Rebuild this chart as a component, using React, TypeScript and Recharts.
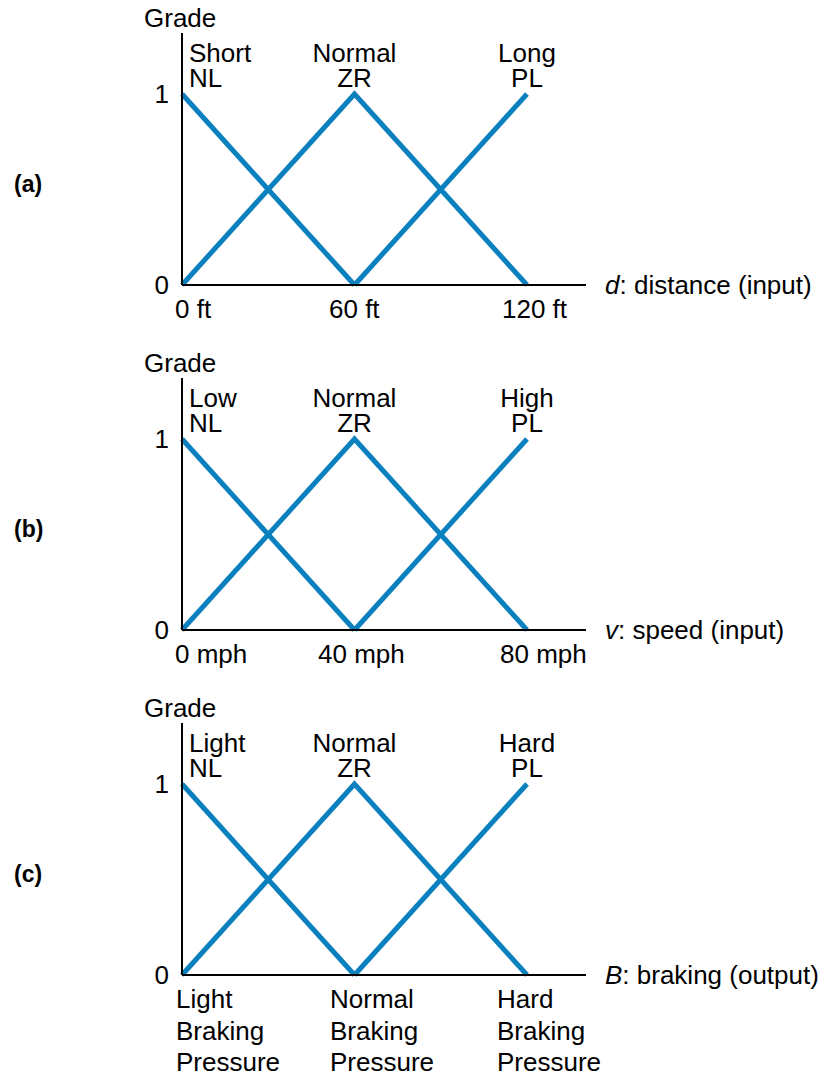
import { Label, Line, LineChart, XAxis, YAxis } from 'recharts'

const FONT = "Arial, 'Liberation Sans', Helvetica, sans-serif"
const CURVE = '#0a80bf'

// membership grades at the three set centres (null = set not defined there)
const NL_GRADE = [1, 0, null]
const ZR_GRADE = [0, 1, 0]
const PL_GRADE = [null, 0, 1]
const GRADE_TICKS = [0, 1]
const SET_CODES = ['NL', 'ZR', 'PL']

const DISTANCE_X = [0, 60, 120]
const DISTANCE_SETS = ['Short', 'Normal', 'Long']
const DISTANCE_TICKS = [['0 ft'], ['60 ft'], ['120 ft']]

const SPEED_X = [0, 40, 80]
const SPEED_SETS = ['Low', 'Normal', 'High']
const SPEED_TICKS = [['0 mph'], ['40 mph'], ['80 mph']]

const BRAKING_X = [0, 1, 2]
const BRAKING_SETS = ['Light', 'Normal', 'Hard']
const BRAKING_TICKS = [
  ['Light', 'Braking', 'Pressure'],
  ['Normal', 'Braking', 'Pressure'],
  ['Hard', 'Braking', 'Pressure'],
]

type PanelProps = {
  tag: string
  xs: number[]
  sets: string[]
  ticks: string[][]
  variable: string
  caption: string
  height: number
  tickDx: number[]
}

function Panel({ tag, xs, sets, ticks, variable, caption, height, tickDx }: PanelProps) {
  const data = xs.map((x, i) => ({ x, nl: NL_GRADE[i], zr: ZR_GRADE[i], pl: PL_GRADE[i] }))
  const xMax = xs[xs.length - 1] * (404 / 345)
  const yMax = 252 / 191

  const bottomTick = (props: any) => {
    const { x, y, payload } = props
    const i = xs.indexOf(payload.value)
    const tx = x + tickDx[i]
    return (
      <text x={tx} y={y} fontSize={26} fontFamily={FONT} fill="#000" textAnchor="start">
        {ticks[i].map((line, k) => (
          <tspan key={k} x={tx} dy={k === 0 ? 33 : 31.5}>{line}</tspan>
        ))}
      </text>
    )
  }

  const topTick = (props: any) => {
    const { x, y, payload } = props
    const i = xs.indexOf(payload.value)
    const first = i === 0
    const tx = first ? x + 7 : x
    return (
      <text x={tx} y={y} fontSize={26} fontFamily={FONT} fill="#000" textAnchor={first ? 'start' : 'middle'}>
        <tspan x={tx} dy={29}>{sets[i]}</tspan>
        <tspan x={tx} dy={25}>{SET_CODES[i]}</tspan>
      </text>
    )
  }

  return (
    <LineChart width={830} height={height} data={data} margin={{ top: 32, right: 244, left: 0, bottom: 0 }}>
      <XAxis
        xAxisId="main"
        dataKey="x"
        type="number"
        domain={[0, xMax]}
        ticks={xs}
        interval={0}
        height={height - 285}
        tickSize={0}
        tickMargin={0}
        tickLine={false}
        axisLine={{ stroke: '#000', strokeWidth: 2 }}
        tick={bottomTick}
      >
        <Label
          content={(p: any) => {
            const vb = p.viewBox
            return (
              <text x={vb.x + vb.width + 19} y={vb.y + 9} fontSize={26} fontFamily={FONT} fill="#000">
                <tspan fontStyle="italic">{variable}</tspan>
                {caption}
              </text>
            )
          }}
        />
      </XAxis>
      <XAxis
        xAxisId="sets"
        orientation="top"
        dataKey="x"
        type="number"
        domain={[0, xMax]}
        ticks={xs}
        interval={0}
        height={1}
        tickSize={0}
        tickMargin={0}
        tickLine={false}
        axisLine={false}
        tick={topTick}
      />
      <YAxis
        type="number"
        domain={[0, yMax]}
        ticks={GRADE_TICKS}
        width={182}
        tickSize={0}
        tickMargin={13}
        tickLine={false}
        axisLine={{ stroke: '#000', strokeWidth: 2 }}
        tick={{ fontSize: 26, fontFamily: FONT, fill: '#000' }}
      >
        <Label
          content={(p: any) => {
            const vb = p.viewBox
            return (
              <g>
                <text x={vb.x + 144} y={vb.y - 6} fontSize={26} fontFamily={FONT} fill="#000">Grade</text>
                <text x={vb.x + 14} y={vb.y + vb.height - 93} fontSize={23} fontWeight="bold" fontFamily={FONT} fill="#000">{tag}</text>
              </g>
            )
          }}
        />
      </YAxis>
      <Line xAxisId="main" dataKey="nl" type="linear" stroke={CURVE} strokeWidth={5} dot={false} activeDot={false} isAnimationActive={false} />
      <Line xAxisId="main" dataKey="zr" type="linear" stroke={CURVE} strokeWidth={5} dot={false} activeDot={false} isAnimationActive={false} />
      <Line xAxisId="main" dataKey="pl" type="linear" stroke={CURVE} strokeWidth={5} dot={false} activeDot={false} isAnimationActive={false} />
    </LineChart>
  )
}

export default function App() {
  return (
    <div style={{ position: 'absolute', left: 0, top: 0, width: 830, height: 1078, background: '#fff' }}>
      <Panel tag="(a)" xs={DISTANCE_X} sets={DISTANCE_SETS} ticks={DISTANCE_TICKS} variable="d" caption=": distance (input)" height={345} tickDx={[-7, -25.5, -25]} />
      <Panel tag="(b)" xs={SPEED_X} sets={SPEED_SETS} ticks={SPEED_TICKS} variable="v" caption=": speed (input)" height={345} tickDx={[-7, -36.5, -27]} />
      <Panel tag="(c)" xs={BRAKING_X} sets={BRAKING_SETS} ticks={BRAKING_TICKS} variable="B" caption=": braking (output)" height={388} tickDx={[-6, -24.5, -30]} />
    </div>
  )
}
